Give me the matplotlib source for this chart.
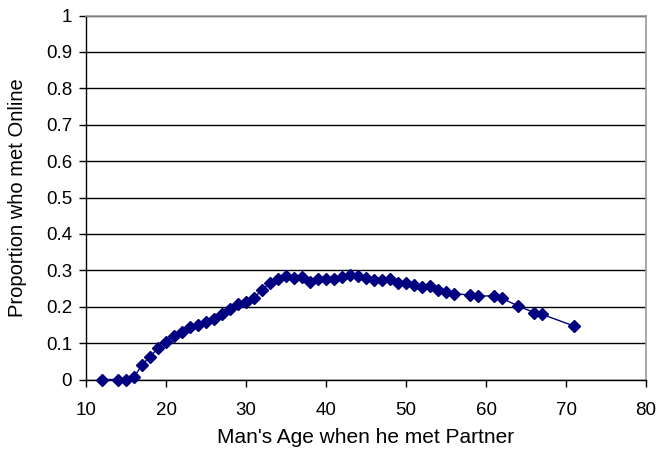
import matplotlib
matplotlib.use("Agg")
import matplotlib.pyplot as plt

plt.rcParams['font.family'] = ['Liberation Sans', 'DejaVu Sans']

# Man's age at meeting partner and proportion of couples who met online
ages = [12, 14, 15, 16, 17, 18, 19, 20, 21, 22, 23, 24, 25, 26, 27, 28, 29, 30,
        31, 32, 33, 34, 35, 36, 37, 38, 39, 40, 41, 42, 43, 44, 45, 46, 47, 48,
        49, 50, 51, 52, 53, 54, 55, 56, 58, 59, 61, 62, 64, 66, 67, 71]
proportion = [0.0, 0.0, 0.0, 0.007, 0.040, 0.063, 0.086, 0.104, 0.120, 0.130,
              0.144, 0.150, 0.159, 0.167, 0.180, 0.194, 0.208, 0.214, 0.225,
              0.246, 0.265, 0.275, 0.285, 0.278, 0.282, 0.267, 0.275, 0.275,
              0.275, 0.281, 0.286, 0.285, 0.279, 0.273, 0.273, 0.276, 0.265,
              0.264, 0.259, 0.255, 0.256, 0.245, 0.240, 0.236, 0.232, 0.229,
              0.230, 0.223, 0.202, 0.184, 0.179, 0.147]

x_ticks = [10, 20, 30, 40, 50, 60, 70, 80]
y_ticks = [0, 0.1, 0.2, 0.3, 0.4, 0.5, 0.6, 0.7, 0.8, 0.9, 1]
y_tick_labels = ['0', '0.1', '0.2', '0.3', '0.4', '0.5', '0.6', '0.7', '0.8', '0.9', '1']

fig = plt.figure(figsize=(6.58, 4.59), dpi=100)
ax = fig.add_axes([0.1307, 0.1732, 0.8511, 0.7930])

ax.plot(ages, proportion, color='#000080', linewidth=1.0, marker='D',
        markersize=6.3, markerfacecolor='#000080', markeredgecolor='#000080',
        clip_on=False, zorder=3)

ax.set_xlim(10, 80)
ax.set_ylim(0, 1)
ax.set_xticks(x_ticks)
ax.set_yticks(y_ticks)
ax.set_yticklabels(y_tick_labels)

ax.yaxis.grid(True, color='black', linewidth=1.0)
ax.set_axisbelow(True)

for side in ('left', 'bottom'):
    ax.spines[side].set_color('black')
    ax.spines[side].set_linewidth(1.0)
for side in ('top', 'right'):
    ax.spines[side].set_color('#999999')
    ax.spines[side].set_linewidth(1.2)

ax.tick_params(axis='both', direction='out', length=5, width=1.0,
               color='black', labelsize=13.5, pad=5)
ax.tick_params(axis='x', pad=11)

ax.set_xlabel("Man's Age when he met Partner", fontsize=15)
ax.set_ylabel("Proportion who met Online", fontsize=14.5)
ax.xaxis.set_label_coords(0.5, -0.158)
ax.yaxis.set_label_coords(-0.123, 0.5)
ax.xaxis.label.set_verticalalignment('center')
ax.yaxis.label.set_verticalalignment('center')

fig.savefig('out.png', dpi=100)
